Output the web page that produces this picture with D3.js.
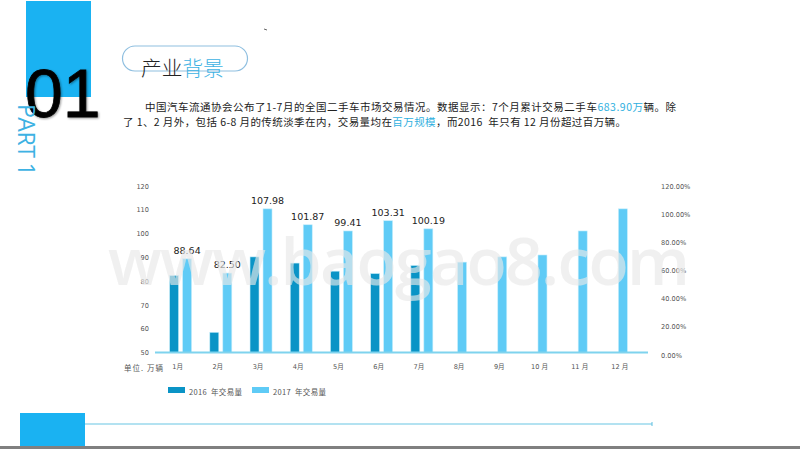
<!DOCTYPE html>
<html>
<head>
<meta charset="utf-8">
<script src="https://cdn.jsdelivr.net/npm/d3@7"></script>
<style>
  html, body { margin: 0; padding: 0; background: #fff; overflow: hidden; }
  text { font-family: "Noto Sans CJK SC", "Noto Sans", sans-serif; }
</style>
</head>
<body>
<div id="chartContainer"></div>
<script>
// Values
const months = ["1月", "2月", "3月", "4月", "5月", "6月", "7月", "8月", "9月", "10 月", "11 月", "12 月"];
const sales2016 = [82.4, 58.5, 90.2, 87.6, 84.2, 83.2, 86.6, null, null, null, null, null];
const sales2017 = [89.4, 83.4, 110.4, 103.7, 101.1, 105.4, 102, 88, 90.2, 91, 101.1, 110.4];
const labels2017 = ["88.64", "82.50", "107.98", "101.87", "99.41", "103.31", "100.19"];
const leftTicks = [50, 60, 70, 80, 90, 100, 110, 120];
const rightTicks = [0, 0.2, 0.4, 0.6, 0.8, 1, 1.2];
const seriesNames = ["2016  年交易量", "2017  年交易量"];
const colors = ["#0a94c6", "#5fcbf6"];

const width = 800;
const height = 449;
const latinFont = "'DejaVu Sans', 'Noto Sans CJK SC'";

const svg = d3.select("#chartContainer")
  .append("svg")
  .attr("width", width)
  .attr("height", height);

// Slide decoration
svg.append("rect").attr("x", 26).attr("y", 1).attr("width", 65).attr("height", 96).attr("fill", "#1ab2f2");
svg.append("rect").attr("x", 20).attr("y", 413).attr("width", 65).attr("height", 33).attr("fill", "#1ab2f2");
svg.append("rect").attr("x", 0).attr("y", 446).attr("width", width).attr("height", 3).attr("fill", "#808080");
svg.append("line").attr("x1", 85).attr("x2", 652).attr("y1", 424).attr("y2", 424)
  .attr("stroke", "#9ad8ec").attr("stroke-width", 1.5);
svg.append("line").attr("x1", 652).attr("x2", 652).attr("y1", 422).attr("y2", 426)
  .attr("stroke", "#5fbfe0").attr("stroke-width", 1);
svg.append("line").attr("x1", 264).attr("x2", 267).attr("y1", 29).attr("y2", 30)
  .attr("stroke", "#666").attr("stroke-width", 1);

svg.append("text")
  .attr("x", 25).attr("y", 117)
  .attr("font-size", 68)
  .style("font-family", "'Liberation Sans'")
  .attr("fill", "#000")
  .attr("stroke", "#000")
  .attr("stroke-width", 0.8)
  .style("filter", "drop-shadow(1px 1px 1px rgba(0,0,0,0.4))")
  .text("01");

svg.append("text")
  .attr("transform", "translate(18,104) rotate(90)")
  .attr("font-size", 23)
  .attr("textLength", 72)
  .style("font-family", "'Open Sans'")
  .attr("fill", "#3eb2e3")
  .text("PART 1");

// Title pill
svg.append("rect")
  .attr("x", 122.5).attr("y", 46).attr("width", 125).attr("height", 25).attr("rx", 12.5)
  .attr("fill", "none").attr("stroke", "#8fbfe0").attr("stroke-width", 1.2);

const title = svg.append("text").attr("x", 141).attr("y", 75.5).attr("font-size", 20.7).style("font-weight", 300);
title.append("tspan").attr("fill", "#222").text("产业");
title.append("tspan").attr("fill", "#3eb2e3").text("背景");

// Intro paragraph
const blue = "#2fb0e0";
const paragraph = [
  { x: 145, y: 111, len: 531, parts: [["中国汽车流通协会公布了1-7月的全国二手车市场交易情况。数据显示：7个月累计交易二手车", "#222"], ["683.90万", blue], ["辆。除", "#222"]] },
  { x: 123, y: 126, len: 503, parts: [["了 1、2 月外，包括 6-8 月的传统淡季在内，交易量均在", "#222"], ["百万规模", blue], ["，而2016  年只有 12 月份超过百万辆。", "#222"]] }
];
paragraph.forEach(line => {
  const t = svg.append("text")
    .attr("x", line.x).attr("y", line.y)
    .attr("font-size", 10.5)
    .attr("textLength", line.len)
    .attr("xml:space", "preserve");
  line.parts.forEach(p => t.append("tspan").attr("fill", p[1]).text(p[0]));
});

// Scales
const x = d3.scaleBand().domain(months).range([160.5, 643]);
const y = d3.scaleLinear().domain([50, 120]).range([352.5, 186]);
const yRight = d3.scaleLinear().domain([0, 1.2]).range([355, 186]);
const barWidth = 9;

// Axes
const leftAxis = svg.append("g")
  .attr("transform", "translate(149,0)")
  .call(d3.axisLeft(y).tickValues(leftTicks).tickSize(0).tickPadding(0));
const rightAxis = svg.append("g")
  .attr("transform", "translate(661,0)")
  .call(d3.axisRight(yRight).tickValues(rightTicks).tickSize(0).tickPadding(0)
    .tickFormat(d => (d * 100).toFixed(2) + "%"));
const bottomAxis = svg.append("g")
  .attr("transform", "translate(-3,364)")
  .call(d3.axisBottom(x).tickSize(0).tickPadding(0));

[leftAxis, rightAxis, bottomAxis].forEach(axis => {
  axis.select(".domain").remove();
  axis.selectAll("text")
    .attr("fill", "#555")
    .style("font-size", "6.6px")
    .style("font-family", latinFont);
});

svg.append("text")
  .attr("x", 124).attr("y", 371)
  .attr("font-size", 7.5).attr("fill", "#555")
  .attr("textLength", 39)
  .text("单位. 万辆");

// Bars, a month without a 2016 value gets its 2017 bar centred
months.forEach((month, i) => {
  const present = sales2016[i] === null ? ["b"] : ["a", "b"];
  const inner = d3.scalePoint().domain(present).range([-6.5, 6.5]);
  const cx = x(month) + x.bandwidth() / 2;

  if (sales2016[i] !== null) {
    svg.append("rect")
      .attr("x", cx + inner("a") - barWidth / 2)
      .attr("y", y(sales2016[i]))
      .attr("width", barWidth)
      .attr("height", y(50) - y(sales2016[i]))
      .attr("fill", colors[0])
      .attr("stroke", "#c8eefb")
      .attr("stroke-width", 0.6);
  }
  svg.append("rect")
    .attr("x", cx + inner("b") - barWidth / 2)
    .attr("y", y(sales2017[i]))
    .attr("width", barWidth)
    .attr("height", y(50) - y(sales2017[i]))
    .attr("fill", colors[1])
    .attr("stroke", "#c8eefb")
    .attr("stroke-width", 0.6);

  if (labels2017[i]) {
    svg.append("text")
      .attr("x", cx + inner("b"))
      .attr("y", y(sales2017[i]) - 5)
      .attr("text-anchor", "middle")
      .attr("font-size", 9.5)
      .attr("fill", "#222")
      .style("font-family", latinFont)
      .text(labels2017[i]);
  }
});

// Baseline
svg.append("line")
  .attr("x1", 155).attr("x2", 648)
  .attr("y1", y(50)).attr("y2", y(50))
  .attr("stroke", "#7fd3ee").attr("stroke-width", 2);

// Legend
seriesNames.forEach((name, i) => {
  const lx = 168 + i * 84;
  svg.append("rect").attr("x", lx).attr("y", 387).attr("width", 17).attr("height", 6).attr("fill", colors[i]);
  svg.append("text").attr("x", lx + 21).attr("y", 395)
    .attr("font-size", 7.5).attr("fill", "#555")
    .attr("textLength", 53)
    .attr("xml:space", "preserve")
    .text(name);
});

// Watermark sits over everything
svg.append("text")
  .attr("x", 108).attr("y", 285)
  .attr("font-size", 66)
  .attr("textLength", 582)
  .style("font-family", "'Open Sans'")
  .style("font-weight", 600)
  .attr("fill", "rgba(232,232,232,0.65)")
  .text("www.baogao8.com");
</script>
</body>
</html>
